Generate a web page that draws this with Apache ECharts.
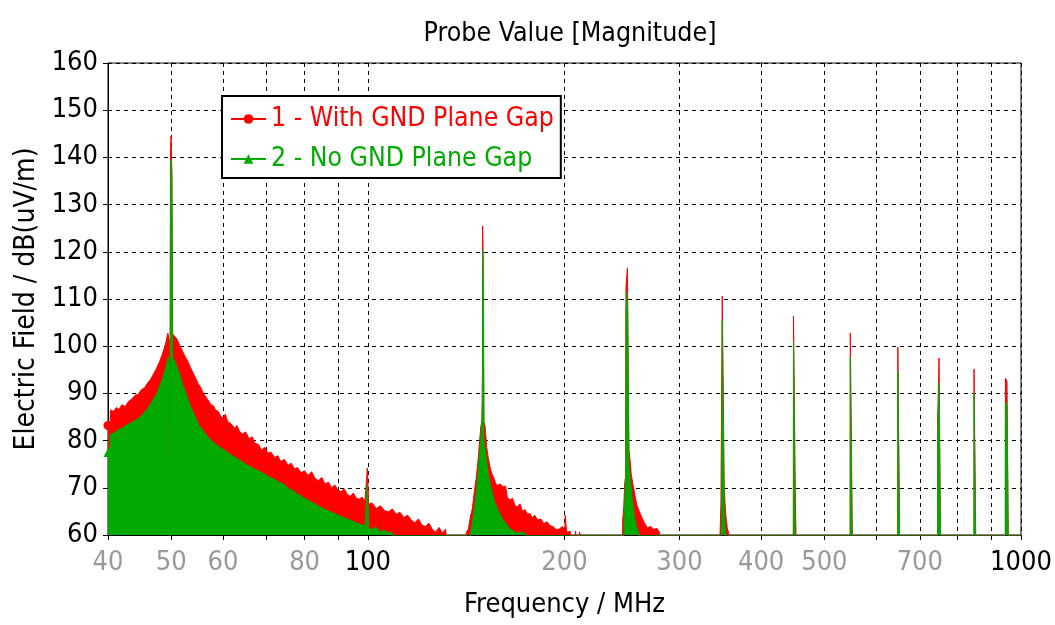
<!DOCTYPE html>
<html>
<head>
<meta charset="utf-8">
<title>Probe Value [Magnitude]</title>
<script src="https://cdn.jsdelivr.net/npm/echarts@6/dist/echarts.min.js"></script>
<style>
	html, body { margin: 0; padding: 0; background: #fff; }
	#chart { width: 1055px; height: 625px; }
</style>
</head>
<body>
<div id="chart"></div>
<script>
// frequency (MHz), field (dB uV/m)
var gapSpectrum = [
	[40.0, 83.2], [40.3, 83.8], [40.35, 86.5], [40.8, 86.2], [41.2, 87.0], [41.6, 86.6], [42.0, 87.6],
	[42.5, 87.2], [43.0, 88.3], [43.5, 88.8], [44.0, 89.6], [44.5, 89.8], [45.0, 90.8], [45.5, 91.2],
	[46.0, 92.2], [46.5, 93.0], [47.0, 94.2], [47.5, 95.4], [48.0, 96.8], [48.5, 98.5], [49.0, 100.5],
	[49.4, 102.8], [49.6, 101.5], [49.7, 101.0], [49.75, 55], [49.8, 55], [49.85, 140], [49.95, 144.5],
	[50.05, 144.5], [50.1, 137], [50.2, 137], [50.25, 102.6], [50.6, 102.2], [51.0, 101.5], [51.5, 100.2],
	[52.0, 99.0], [52.5, 97.8], [53.0, 96.8], [53.5, 95.5], [54.0, 94.3], [54.5, 93.2], [55.0, 92.0],
	[55.5, 91.2], [56.0, 90.0], [56.5, 89.2], [57.0, 88.5], [57.5, 87.6], [58.0, 87.4], [58.5, 86.4],
	[59.0, 86.2], [59.5, 85.2], [60.0, 84.8], [60.5, 85.6], [61.0, 84.0], [61.8, 83.5], [62.5, 82.6],
	[63.0, 83.2], [63.6, 82.0], [64.2, 81.4], [65.0, 81.8], [65.8, 80.4], [66.5, 80.8], [67.2, 79.4],
	[68.0, 79.2], [68.7, 78.0], [69.5, 78.6], [70.3, 77.3], [71.0, 77.6], [72.0, 76.4], [72.8, 76.8],
	[73.5, 75.6], [74.5, 76.0], [75.5, 74.8], [76.3, 75.2], [77.2, 74.0], [78.0, 74.3], [79.0, 73.2],
	[80.0, 73.6], [81.0, 72.6], [82.0, 73.4], [83.0, 72.0], [84.0, 71.5], [85.0, 72.2], [86.0, 70.8],
	[87.0, 71.2], [88.0, 70.0], [89.0, 70.6], [90.0, 69.5], [91.0, 69.2], [92.0, 69.8], [93.0, 68.6],
	[94.0, 68.2], [95.0, 68.9], [96.0, 67.8], [97.0, 67.6], [98.0, 68.0], [99.0, 67.2], [99.7, 66.8],
	[99.8, 74.2], [100.2, 74.2], [100.3, 66.5], [101.5, 66.8], [103.0, 65.6], [104.5, 66.2], [106.0, 65.2],
	[107.5, 64.9], [109.0, 65.5], [110.5, 64.4], [112.0, 64.8], [113.5, 63.7], [115.0, 64.2], [116.5, 63.2],
	[118.0, 62.6], [119.5, 63.4], [121.0, 62.1], [122.5, 61.8], [124.0, 62.5], [125.5, 61.2], [127.0, 60.6],
	[128.5, 61.6], [130.0, 60.4], [131.5, 61.2], [133.0, 55],
	[140.5, 55], [141.5, 60.6], [142.5, 61.2], [143.5, 63.8], [144.5, 65.5], [145.5, 69.0], [146.5, 72.0],
	[147.5, 76.0], [148.3, 80.0], [148.9, 82.9], [149.5, 84.3], [149.75, 94], [149.85, 125.5], [150.15, 125.5],
	[150.2, 117.6], [150.5, 117.6], [150.55, 84.0], [151.2, 83.0], [152.0, 78.6], [152.8, 76.5], [153.8, 74.4],
	[154.8, 73.0], [155.8, 72.2], [156.8, 71.0], [158.0, 70.5], [159.5, 70.8], [161.0, 70.2], [162.5, 70.4],
	[163.5, 68.0], [165.0, 67.4], [166.5, 67.8], [168.0, 66.2], [169.5, 66.0], [171.0, 66.6], [172.5, 65.0],
	[174.0, 65.4], [175.5, 64.4], [177.0, 64.6], [178.5, 63.6], [180.0, 64.2], [182.0, 63.2], [184.0, 63.4],
	[186.0, 62.4], [188.0, 62.8], [190.0, 62.0], [192.0, 61.8], [194.0, 61.2], [196.0, 61.2], [198.5, 61.8],
	[200.3, 61.0], [200.5, 64.2], [201.0, 64.2], [201.5, 60.6], [204.0, 60.8], [206.0, 55], [208.0, 60.8],
	[209.0, 55], [211.0, 60.6], [212.0, 60.4], [213.5, 55],
	[245.2, 55], [245.6, 63.2], [246.5, 66.0], [247.3, 71.0], [248.0, 72.3], [248.4, 112.5], [249.6, 112.5],
	[249.7, 116.6], [250.9, 116.6], [251.0, 78.0], [252.0, 75.9], [253.0, 73.0], [254.5, 70.8], [256.0, 68.9],
	[258.0, 66.4], [260.0, 65.2], [262.5, 63.8], [265.0, 62.6], [268.0, 61.5], [271.0, 61.8], [274.0, 61.2],
	[277.0, 61.4], [279.5, 60.6], [281.0, 55],
	[345.5, 55], [346.2, 60.8], [347.2, 66.8], [348.6, 66.8], [348.8, 110.6], [351.0, 110.6], [351.2, 70.6],
	[352.0, 70.6], [352.2, 66.8], [353.2, 66.8], [353.4, 63.8], [354.8, 63.8], [355.0, 61.5], [356.5, 61.5],
	[356.7, 60.5], [358.0, 60.5], [358.5, 55],
	[447.8, 55], [448.2, 61.7], [448.4, 106.4], [451.2, 106.4], [451.4, 66.8], [453.0, 66.8], [453.2, 55],
	[547.6, 55], [547.8, 102.8], [551.4, 102.8], [551.6, 61.7], [553.6, 61.7], [553.8, 55],
	[647.6, 55], [647.8, 99.8], [652.0, 99.8], [652.2, 55],
	[745.4, 55], [745.6, 85.0], [748.8, 85.0], [749.0, 97.5], [753.0, 97.5], [753.2, 55],
	[847.2, 55], [847.4, 95.2], [852.8, 95.2], [853.0, 55],
	[946.3, 55], [946.5, 93.2], [951.6, 93.2], [951.8, 92.6], [956.4, 92.6], [956.6, 55], [1000, 55]
];

var noGapSpectrum = [
	[40.0, 77.5], [40.25, 78.8], [40.3, 81.3], [40.8, 81.6], [41.4, 82.2], [42.0, 82.6], [42.6, 83.2],
	[43.2, 83.6], [43.8, 84.1], [44.4, 84.6], [45.0, 85.3], [45.5, 86.0], [46.0, 86.8], [46.5, 87.8],
	[47.0, 88.8], [47.5, 90.0], [48.0, 91.5], [48.5, 93.2], [49.0, 95.2], [49.4, 97.8], [49.6, 96.5],
	[49.7, 96.0], [49.75, 55], [49.8, 55], [49.85, 125], [49.95, 139.5], [50.05, 139.5], [50.1, 136.5],
	[50.18, 136.5], [50.22, 97.5], [50.6, 97.0], [51.0, 95.6], [51.5, 94.0], [52.0, 92.0], [52.5, 90.5],
	[53.0, 88.8], [53.5, 87.2], [54.0, 86.0], [54.5, 84.8], [55.0, 83.6], [55.5, 82.7], [56.0, 82.0],
	[57.0, 80.6], [58.0, 79.6], [59.0, 78.8], [60.0, 78.2], [61.0, 77.4], [62.0, 76.8], [63.0, 76.2],
	[64.0, 75.6], [65.0, 75.0], [66.0, 74.5], [67.0, 74.0], [68.0, 73.6], [69.0, 73.1], [70.0, 72.6],
	[71.0, 72.1], [72.0, 71.8], [73.0, 71.2], [74.0, 70.9], [75.0, 70.3], [76.0, 69.6], [77.0, 69.3],
	[78.0, 68.6], [79.0, 68.3], [80.0, 67.7], [81.0, 67.4], [82.0, 66.9], [83.0, 66.6], [84.0, 66.1],
	[85.0, 65.8], [86.0, 65.4], [87.0, 65.1], [88.0, 64.8], [89.0, 64.5], [90.0, 64.2], [91.0, 63.9],
	[92.0, 63.6], [93.0, 63.4], [94.0, 63.1], [95.0, 62.9], [96.0, 62.6], [97.0, 62.4], [98.0, 62.1],
	[99.0, 61.9], [99.7, 61.5], [99.8, 70.6], [100.2, 70.6], [100.3, 61.4], [101.5, 61.2], [103.0, 61.7],
	[104.5, 60.6], [106.0, 61.0], [107.5, 60.4], [109.0, 60.6], [110.5, 55],
	[143.0, 55], [143.6, 60.4], [144.5, 62.5], [145.5, 65.5], [146.1, 67.4], [147.0, 71.0], [147.8, 75.0],
	[148.6, 78.6], [149.2, 81.6], [149.75, 88], [149.85, 120.4], [150.15, 120.4], [150.2, 112.5], [150.5, 112.5],
	[150.55, 80.0], [151.2, 78.0], [152.0, 75.9], [153.0, 72.5], [154.6, 69.5], [156.5, 66.8], [159.0, 64.6],
	[161.5, 63.0], [164.0, 61.7], [167.0, 60.8], [169.5, 60.4], [172.0, 60.6], [174.5, 60.2], [175.0, 55],
	[246.5, 55], [246.8, 63.0], [247.5, 68.0], [248.2, 72.0], [248.4, 107.2], [249.6, 107.2], [249.7, 111.5],
	[250.9, 111.5], [251.0, 75.0], [252.0, 72.3], [254.0, 67.5], [256.0, 63.8], [258.0, 61.5], [260.0, 60.4],
	[261.0, 55],
	[347.5, 55], [348.0, 61.7], [348.6, 61.7], [348.8, 105.5], [351.0, 105.5], [351.2, 65.3], [352.4, 65.3],
	[352.6, 61.0], [353.5, 61.0], [354.0, 55],
	[448.2, 55], [448.4, 101.1], [451.2, 101.1], [451.4, 55],
	[547.6, 55], [547.8, 97.7], [551.4, 97.7], [551.6, 55],
	[647.6, 55], [647.8, 94.7], [652.0, 94.7], [652.2, 55],
	[745.4, 55], [745.6, 79.7], [748.8, 79.7], [749.0, 92.2], [753.0, 92.2], [753.2, 55],
	[847.2, 55], [847.4, 90.0], [852.8, 90.0], [853.0, 55],
	[946.3, 55], [946.5, 88.2], [951.6, 88.2], [951.8, 87.5], [956.4, 87.5], [956.6, 55], [1000, 55]
];

var seriesNames = ['1 - With GND Plane Gap', '2 - No GND Plane Gap'];
var seriesColors = ['#ff0000', '#00aa00'];
var xTickFreqs = [40, 50, 60, 70, 80, 90, 100, 200, 300, 400, 500, 600, 700, 800, 900, 1000];
var xLabelFreqs = [40, 50, 60, 80, 100, 200, 300, 400, 500, 700, 1000];
var xDarkLabels = [100, 1000];

var FONT = "'DejaVu Sans Condensed', 'DejaVu Sans', sans-serif";

var myChart = echarts.init(document.getElementById('chart'));

function markFirst(value, params) {
	return params.dataIndex === 0 ? 9 : 0;
}

var option = {
	animation: false,
	textStyle: { fontFamily: FONT },
	title: {
		text: 'Probe Value [Magnitude]',
		left: 565,
		top: 16,
		textAlign: 'center',
		textStyle: { fontFamily: FONT, fontSize: 26.5, fontWeight: 'normal', color: '#000' }
	},
	legend: {
		orient: 'vertical',
		left: 222,
		top: 96,
		padding: [10, 7, 6, 8],
		itemGap: 14,
		itemWidth: 35,
		itemHeight: 12,
		backgroundColor: '#fff',
		borderColor: '#000',
		borderWidth: 2,
		borderRadius: 0,
		lineStyle: { width: 2 },
		data: [{
			name: seriesNames[0],
			textStyle: { color: seriesColors[0] }
		}, {
			name: seriesNames[1],
			textStyle: { color: seriesColors[1] }
		}],
		textStyle: { fontFamily: FONT, fontSize: 26.4 }
	},
	grid: {
		left: 108,
		right: 34,
		top: 63,
		bottom: 90,
		show: true,
		borderColor: '#000',
		borderWidth: 1,
		backgroundColor: 'transparent',
		containLabel: false
	},
	xAxis: {
		type: 'log',
		logBase: 10,
		min: 40,
		max: 1000,
		name: 'Frequency / MHz',
		nameLocation: 'middle',
		nameGap: 56,
		nameTextStyle: { fontFamily: FONT, fontSize: 27, color: '#000' },
		axisLine: { show: true, lineStyle: { color: '#000', width: 1 } },
		axisTick: {
			show: true,
			inside: false,
			length: 5,
			customValues: xTickFreqs,
			lineStyle: { color: '#000' }
		},
		axisLabel: {
			customValues: xLabelFreqs,
			margin: 14,
			formatter: function(v) {
				var f = Math.round(v);
				return (xDarkLabels.indexOf(f) > -1 ? '{b|' : '{g|') + f + '}';
			},
			rich: {
				g: { color: '#999999', fontFamily: FONT, fontSize: 27 },
				b: { color: '#000000', fontFamily: FONT, fontSize: 27 }
			}
		},
		splitLine: {
			show: true,
			lineStyle: { color: '#000', type: [4, 4], width: 1 }
		}
	},
	yAxis: {
		type: 'value',
		min: 60,
		max: 160,
		interval: 10,
		name: 'Electric Field / dB(uV/m)',
		nameLocation: 'middle',
		nameGap: 66,
		nameTextStyle: { fontFamily: FONT, fontSize: 28, color: '#000' },
		axisLine: { show: true, lineStyle: { color: '#000', width: 1 } },
		axisTick: { show: true, inside: false, length: 5, lineStyle: { color: '#000' } },
		axisLabel: { color: '#000', fontFamily: FONT, fontSize: 27, margin: 10 },
		splitLine: {
			show: true,
			lineStyle: { color: '#000', type: [4, 4], width: 1 }
		}
	},
	series: [{
		name: seriesNames[0],
		type: 'line',
		data: gapSpectrum,
		symbol: 'circle',
		symbolSize: markFirst,
		showSymbol: true,
		showAllSymbol: true,
		clip: true,
		itemStyle: { color: seriesColors[0] },
		lineStyle: { color: seriesColors[0], width: 1 },
		areaStyle: { color: seriesColors[0], opacity: 1, origin: 'start' },
		emphasis: { disabled: true },
		z: 2
	}, {
		name: seriesNames[1],
		type: 'line',
		data: noGapSpectrum,
		symbol: 'triangle',
		symbolSize: markFirst,
		showSymbol: true,
		showAllSymbol: true,
		clip: true,
		itemStyle: { color: seriesColors[1] },
		lineStyle: { color: seriesColors[1], width: 1 },
		areaStyle: { color: seriesColors[1], opacity: 1, origin: 'start' },
		emphasis: { disabled: true },
		z: 3
	}]
};
myChart.setOption(option);
</script>
</body>
</html>
